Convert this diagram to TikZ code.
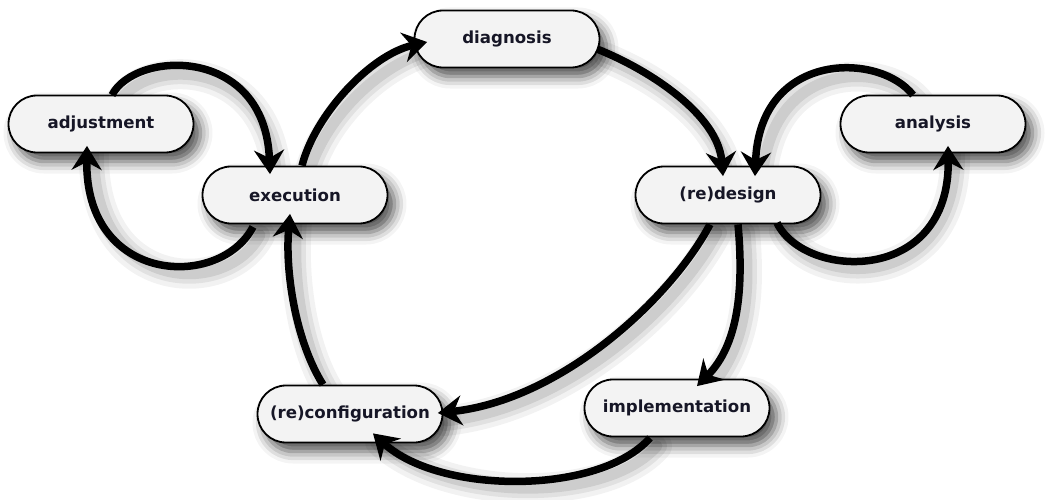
\documentclass[tikz,border=0pt]{standalone}
\usepackage{fontspec}
\setmainfont{DejaVu Sans}
\usetikzlibrary{arrows.meta,shapes.misc,calc,shadows.blur}
\pgfdeclarelayer{background}
\pgfsetlayers{background,main}
\definecolor{boxfill}{RGB}{243,243,243}
\definecolor{boxtext}{RGB}{22,22,38}
\begin{document}
\begin{tikzpicture}[x=1pt,y=-1pt,
  state/.style={rounded rectangle, draw=black, line width=1.8pt, fill=boxfill,
    minimum width=185pt, minimum height=57pt, inner sep=0pt,
    font=\fontsize{16.6}{20}\selectfont\bfseries, text=boxtext,
    blur shadow={shadow xshift=7pt, shadow yshift=-9pt, shadow blur radius=12pt, shadow opacity=70}},
  flow/.style={draw=black, line width=7.5pt, -{Stealth[length=24pt,width=30pt,inset=8pt]}},
  shadowwide/.style={draw=black, opacity=0.05, line width=30pt, line cap=round, transform canvas={shift={(7pt,-8pt)}}},
  shadowmid/.style={draw=black, opacity=0.07, line width=20pt, line cap=round, transform canvas={shift={(7pt,-8pt)}}},
  shadownarrow/.style={draw=black, opacity=0.09, line width=11pt, line cap=round, transform canvas={shift={(7pt,-8pt)}}}
]
\useasboundingbox (0,0) rectangle (1045,500);

\node[state] (adj)  at (101,124) {adjustment};
\node[state] (diag) at (507,39)  {diagnosis};
\node[state] (exe)  at (295,195) {execution};
\node[state] (des)  at (728,195) {(re)design};
\node[state] (ana)  at (933,124) {analysis};
\node[state] (conf) at (350,414) {(re)configuration};
\node[state] (imp)  at (677,408) {implementation};

\def\pA{($(exe.north)+(7,0)$) .. controls (315,115) and (370,55) .. ($(diag.west)+(13.5,3)$)}
\def\pB{($(diag.east)+(-3.5,10)$) .. controls (650,70) and (718,115) .. ($(des.north)+(-5,10.5)$)}
\def\pC{($(des.south)+(49,-1.5)$) .. controls (805,280) and (950,285) .. ($(ana.south)+(15,-7.5)$)}
\def\pD{($(ana.north)+(-20,0.5)$) .. controls (880,52) and (760,50) .. ($(des.north)+(27,10.5)$)}
\def\pE{($(des.south)+(10,0)$) .. controls (744,290) and (738,345) .. ($(imp.north)+(20,7.5)$)}
\def\pF{($(des.south)+(-18,0)$) .. controls (670,300) and (560,400) .. ($(conf.east)+(-5.5,-1)$)}
\def\pG{($(imp.south)+(-27,0.5)$) .. controls (600,495) and (440,495) .. ($(conf.south)+(23,-10)$)}
\def\pH{($(conf.north)+(-27,0)$) .. controls (295,340) and (285,270) .. ($(exe.south)+(-5,-10.5)$)}
\def\pI{($(exe.south)+(-42,2.5)$) .. controls (220,290) and (85,285) .. ($(adj.south)+(-14,-7.5)$)}
\def\pJ{($(adj.north)+(11,0.5)$) .. controls (135,50) and (265,45) .. ($(exe.north)+(-25,8.5)$)}

\begin{pgfonlayer}{background}
\foreach \s in {shadowwide,shadowmid,shadownarrow}{
  \draw[\s] \pA; \draw[\s] \pB; \draw[\s] \pC; \draw[\s] \pD; \draw[\s] \pE;
  \draw[\s] \pF; \draw[\s] \pG; \draw[\s] \pH; \draw[\s] \pI; \draw[\s] \pJ;
}
\end{pgfonlayer}

\draw[flow] \pA;
\draw[flow] \pB;
\draw[flow] \pC;
\draw[flow] \pD;
\draw[flow] \pE;
\draw[flow] \pF;
\draw[flow] \pG;
\draw[flow] \pH;
\draw[flow] \pI;
\draw[flow] \pJ;
\end{tikzpicture}
\end{document}
